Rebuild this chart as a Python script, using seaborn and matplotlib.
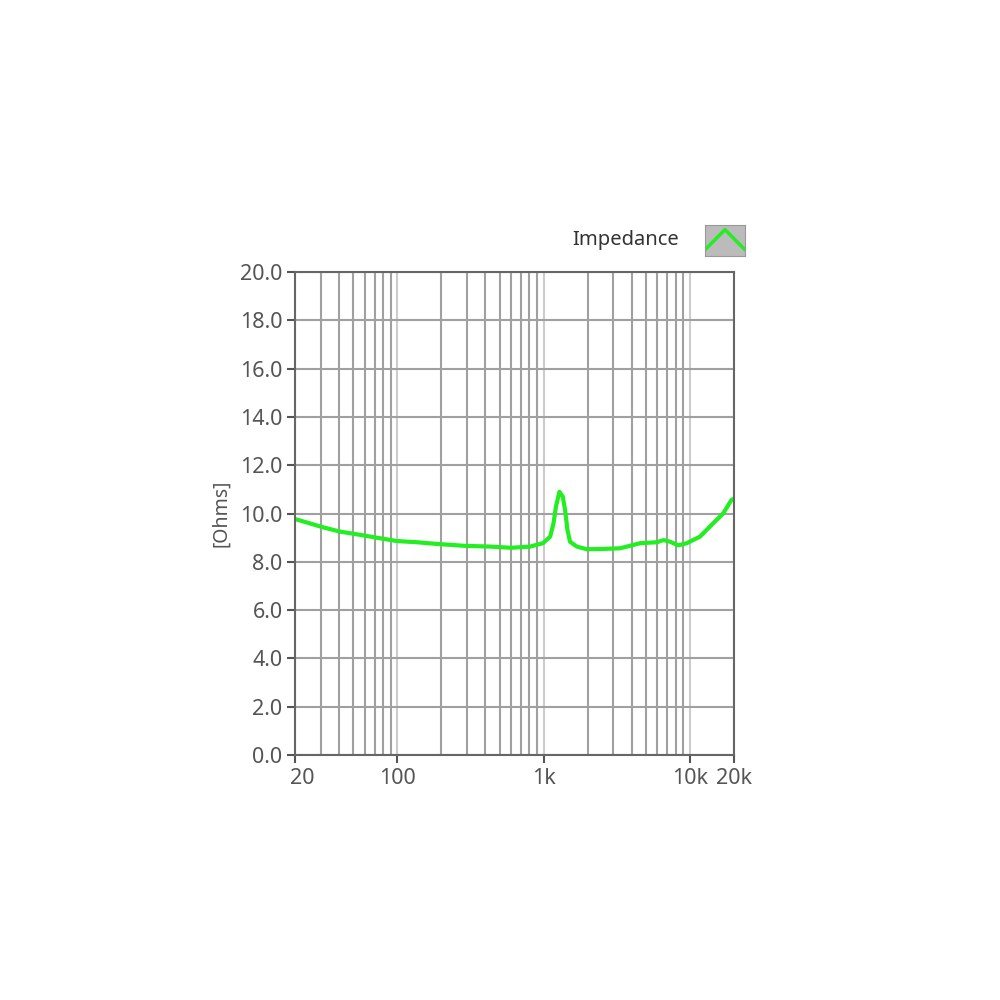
import numpy as np
import pandas as pd
import seaborn as sns
import matplotlib
matplotlib.use("Agg")
import matplotlib.pyplot as plt
import matplotlib.transforms as mtransforms
from matplotlib.ticker import FixedLocator, FixedFormatter

# impedance curve
freq = [20.3, 25.3, 31, 40.6, 52.8, 72, 99, 136, 186, 290, 432, 600, 808,
        990, 1108, 1168, 1214, 1282, 1352, 1402, 1455, 1516, 1686, 1972, 2500,
        3336, 4560, 5940, 6600, 7320, 8320, 9500, 11700, 14380, 16860, 19200, 20000]
ohms = [9.76, 9.59, 9.43, 9.25, 9.14, 9.00, 8.86, 8.81, 8.74, 8.66, 8.63, 8.58, 8.63,
        8.77, 9.04, 9.59, 10.28, 10.90, 10.70, 10.14, 9.32, 8.83, 8.63, 8.52, 8.53,
        8.56, 8.77, 8.81, 8.90, 8.83, 8.68, 8.77, 9.04, 9.59, 10.0, 10.56, 10.62]

x_ticks = [20, 100, 1000, 10000, 20000]
x_labels = ["20", "100", "1k", "10k", "20k"]
x_minor = [30, 40, 50, 60, 70, 80, 90, 200, 300, 400, 500, 600, 700, 800, 900,
           2000, 3000, 4000, 5000, 6000, 7000, 8000, 9000]
y_ticks = [0, 2, 4, 6, 8, 10, 12, 14, 16, 18, 20]

sns.set_style("white")
plt.rcParams['font.family'] = ['Noto Sans', 'DejaVu Sans']

df = pd.DataFrame({"freq": freq, "ohms": ohms})

fig = plt.figure(figsize=(10, 10), dpi=100)
ax = fig.add_axes([0.295, 0.245, 0.439, 0.483])
sns.lineplot(data=df, x="freq", y="ohms", ax=ax, color="#22ee22", linewidth=3)

ax.set_xscale("log")
ax.set_xlim(20, 20000)
ax.set_ylim(0, 20)
ax.xaxis.set_major_locator(FixedLocator(x_ticks))
ax.xaxis.set_major_formatter(FixedFormatter(x_labels))
ax.xaxis.set_minor_locator(FixedLocator(x_minor))
ax.set_yticks(y_ticks)
ax.set_yticklabels(["%.1f" % v for v in y_ticks])

ax.xaxis.grid(True, which="major", color="#cccccc", linewidth=1.5)
ax.xaxis.grid(True, which="minor", color="#a0a0a0", linewidth=1.5)
ax.yaxis.grid(True, which="major", color="#a0a0a0", linewidth=1.5)
ax.set_axisbelow(True)

ax.tick_params(axis="both", which="major", direction="out", length=6, width=1.5,
               color="#555555", labelcolor="#555555", labelsize=15.5, pad=3, left=True, bottom=True)
ax.tick_params(axis="x", which="minor", length=0)
for s in ax.spines.values():
    s.set_color("#666666")
    s.set_linewidth(1.5)

# the "20" label sits a little right of its tick
lbl = ax.get_xticklabels()[0]
lbl.set_transform(lbl.get_transform() + mtransforms.ScaledTranslation(0.07, 0, fig.dpi_scale_trans))

ax.set_xlabel("")
ax.set_ylabel("[Ohms]", fontsize=14, color="#555555", labelpad=6)

# legend
fig.text(0.679, 0.76, "Impedance", fontsize=14.5, color="#333333", ha="right", va="center")
lax = fig.add_axes([0.705, 0.744, 0.04, 0.031])
lax.set_facecolor("#bbbbbb")
lax.plot([0, 0.5, 1], [0.2, 0.85, 0.2], color="#22ee22", linewidth=2.5)
lax.set_xlim(0, 1)
lax.set_ylim(0, 1)
lax.set_xticks([])
lax.set_yticks([])
for s in lax.spines.values():
    s.set_color("#999999")

fig.savefig("out.png", dpi=100)
